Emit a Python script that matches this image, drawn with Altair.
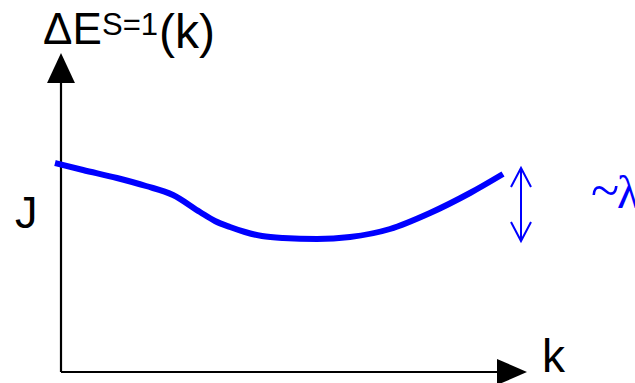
import altair as alt
import pandas as pd

# Schematic S=1 excitation branch: energy gap vs momentum
k_vals = [-6, 22, 56, 85, 112, 139, 154, 169, 184, 201, 222, 256, 289, 329, 369, 409, 442]
gap_vals = [209, 202, 194, 186, 177, 160, 151, 145, 140, 136, 134, 133, 135, 143, 159, 179, 198]

# Axis extents (origin at k=0, gap=0)
k_axis_end = 436
gap_axis_end = 289

W, H = 635, 383
x_scale = alt.Scale(domain=[-61, 574], nice=False, zero=False)
y_scale = alt.Scale(domain=[-11, 372], nice=False, zero=False)
X = lambda f: alt.X(f, type="quantitative", scale=x_scale, axis=None)
Y = lambda f: alt.Y(f, type="quantitative", scale=y_scale, axis=None)

curve = pd.DataFrame({"k": k_vals, "gap": gap_vals})

# Axes lines
axes_df = pd.DataFrame({
    "k": [0, 0, 0, k_axis_end],
    "gap": [gap_axis_end, 0, 0, 0],
    "seg": ["v", "v", "h", "h"],
})
axes = alt.Chart(axes_df).mark_line(color="black", strokeWidth=2.2).encode(
    x=X("k"), y=Y("gap"), detail="seg:N"
)

# Arrowheads at the ends of the axes
up_head = alt.Chart(pd.DataFrame({"k": [0], "gap": [gap_axis_end + 15]})).mark_point(
    shape="M0,-1L0.93,1L-0.93,1Z", size=900, filled=True, color="black", opacity=1
).encode(x=X("k"), y=Y("gap"))
right_head = alt.Chart(pd.DataFrame({"k": [k_axis_end + 15], "gap": [0]})).mark_point(
    shape="M1,0L-1,0.87L-1,-0.87Z", size=900, filled=True, color="black", opacity=1
).encode(x=X("k"), y=Y("gap"))

line = alt.Chart(curve).mark_line(
    color="#0000FF", strokeWidth=6, interpolate="monotone"
).encode(x=X("k"), y=Y("gap"))

# Double arrow spanning the bandwidth of the branch
lo, hi = min(gap_vals) - 2, max(gap_vals) - 5
ak = 460
dk, dg = 10, 19
arrow_df = pd.DataFrame({
    "k": [ak, ak, ak - dk, ak, ak + dk, ak - dk, ak, ak + dk],
    "gap": [lo, hi, hi - dg, hi, hi - dg, lo + dg, lo, lo + dg],
    "seg": ["s", "s", "t", "t", "t", "b", "b", "b"],
    "o": list(range(8)),
})
arrow = alt.Chart(arrow_df).mark_line(color="#0000FF", strokeWidth=2).encode(
    x=X("k"), y=Y("gap"), detail="seg:N", order="o:Q"
)

sans = "Liberation Sans"
def label(text, x, y, size, font=sans, color="black"):
    return alt.Chart(pd.DataFrame({"t": [text]})).mark_text(
        text=text, font=font, fontSize=size, color=color,
        align="left", baseline="alphabetic"
    ).encode(x=alt.value(x), y=alt.value(y))

texts = [
    label("ΔE", 43, 44, 44),
    label("S=1", 102, 35, 31),
    label("(k)", 159, 48, 48),
    label("J", 15, 228, 45),
    label("k", 542, 372, 46),
    label("~", 591, 208, 52, font="Liberation Serif", color="#0000FF"),
    label("λ", 617, 208, 46, font="Liberation Serif", color="#0000FF"),
]

chart = alt.layer(axes, up_head, right_head, line, arrow, *texts).properties(
    width=W, height=H, padding=0, autosize="none", background="white"
).configure_view(stroke=None)

chart.save("out.html", embed_options={"renderer": "svg", "actions": False})
